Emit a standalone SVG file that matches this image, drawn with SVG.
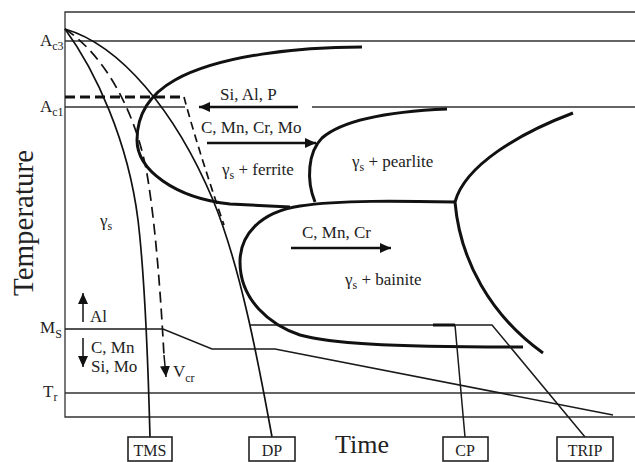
<svg xmlns="http://www.w3.org/2000/svg" width="635" height="462" viewBox="0 0 635 462">
<style>
text{font-family:"Liberation Serif","Times New Roman",serif;fill:#222;font-size:17px}
.sub{font-size:12px}
.frame{stroke:#333;stroke-width:1.3;fill:none}
.thin{stroke:#1a1a1a;stroke-width:1.5;fill:none}
.curve{stroke:#111;stroke-width:1.7;fill:none}
.thick{stroke:#111;stroke-width:3;fill:none}
.arr{stroke:#111;stroke-width:2.5;fill:none;marker-end:url(#ah)}
.arrs{stroke:#111;stroke-width:1.5;fill:none;marker-end:url(#ah)}
.box{fill:#fff;stroke:#222;stroke-width:1.6}
.lbl{font-size:16px;text-anchor:middle}
</style>
<defs>
<marker id="ah" markerUnits="userSpaceOnUse" markerWidth="12" markerHeight="10" refX="11" refY="5" orient="auto">
<path d="M0,0 L11,5 L0,10 Z" fill="#111"/>
</marker>
</defs>
<g id="axes">
<path class="frame" d="M635,12 H65 V417 H635"/>
<path class="frame" d="M65,41 H635 M65,107 H185 M312,107 H635 M65,393 H635"/>
</g>
<g id="connectors">
<path id="ferrite-curve" class="thick" d="M362,47 C300,47 220,55 175,80 C150,94 137,115 137,140 C137,170 175,198 230,204 L290,207"/>
<path id="bainite-curve" class="thick" d="M455,202 C400,201 340,200 300,206 C260,212 240,235 240,262 C240,300 270,325 300,335 C330,343 380,347 523,347"/>
<path id="pearlite-curve" class="thick" d="M447,109 C400,111 345,118 322,138 C308,152 306,180 315,202"/>
<path id="right-curve" class="thick" d="M573,113 C520,133 465,165 455,202 C460,260 490,315 543,353"/>
<path id="tms-path" class="curve" d="M65,29 C95,70 128,140 138,220 C144,270 148,360 150,437"/>
<path id="dp-path" class="curve" d="M65,29 C120,45 175,110 213,200 C240,265 258,360 272,437"/>
<path id="vcr-path" class="curve" stroke-dasharray="11 6" d="M65,29 C105,55 138,115 148,180 C156,230 161,300 164,356"/>
<path class="arrs" d="M164,355 L166,377"/>
<path id="dp-hold" class="thick" stroke-dasharray="10 5" d="M65,97 H183"/>
<path id="dp-cool" class="curve" stroke-width="1.4" stroke-dasharray="8 5" d="M184,97 C190,120 205,170 224,225"/>
<path id="ms-line" class="thin" d="M65,329 L163,329 L212,349 L275,349 L613,415"/>
<path id="trip-path" class="thin" d="M250,325 L492,325 L585,437"/>
<path id="cp-path" class="thin" d="M455,325 L465,437"/>
<path class="thick" stroke-width="2.6" d="M433,325 H455"/>
<path class="arr" d="M298,107 H199"/>
<path class="arr" d="M207,143 H316"/>
<path class="arr" d="M291,248 H391"/>
<path class="arrs" d="M83,322 V293"/>
<path class="arrs" d="M83,338 V367"/>
</g>
<g id="labels">
<text x="40" y="46">A<tspan class="sub" dy="4">c3</tspan></text>
<text x="40" y="112">A<tspan class="sub" dy="4">c1</tspan></text>
<text x="40" y="333">M<tspan class="sub" dy="5">S</tspan></text>
<text x="43" y="397">T<tspan class="sub" dy="4">r</tspan></text>
<text x="90" y="322">Al</text>
<text x="91" y="353">C, Mn</text>
<text x="91" y="372">Si, Mo</text>
<text x="220" y="100">Si, Al, P</text>
<text x="201" y="133">C, Mn, Cr, Mo</text>
<text x="222" y="175">γ<tspan class="sub" dy="4">s</tspan><tspan dy="-4"> + ferrite</tspan></text>
<text x="352" y="167">γ<tspan class="sub" dy="4">s</tspan><tspan dy="-4"> + pearlite</tspan></text>
<text x="302" y="238">C, Mn, Cr</text>
<text x="345" y="285">γ<tspan class="sub" dy="4">s</tspan><tspan dy="-4"> + bainite</tspan></text>
<text x="100" y="226">γ<tspan class="sub" dy="4">s</tspan></text>
<text x="173" y="377">V<tspan class="sub" dy="5">cr</tspan></text>
<text x="362" y="453" font-size="26" text-anchor="middle" style="font-size:26px">Time</text>
<text transform="translate(33,223) rotate(-90)" text-anchor="middle" style="font-size:29px">Temperature</text>
</g>
<g id="TMS"><rect class="box" x="128" y="437" width="44" height="24"/><text class="lbl" x="150" y="456">TMS</text></g>
<g id="DP"><rect class="box" x="249" y="437" width="46" height="24"/><text class="lbl" x="272" y="456">DP</text></g>
<g id="CP"><rect class="box" x="443" y="437" width="45" height="24"/><text class="lbl" x="465" y="456">CP</text></g>
<g id="TRIP"><rect class="box" x="557" y="437" width="56" height="24"/><text class="lbl" x="585" y="456">TRIP</text></g>
</svg>
